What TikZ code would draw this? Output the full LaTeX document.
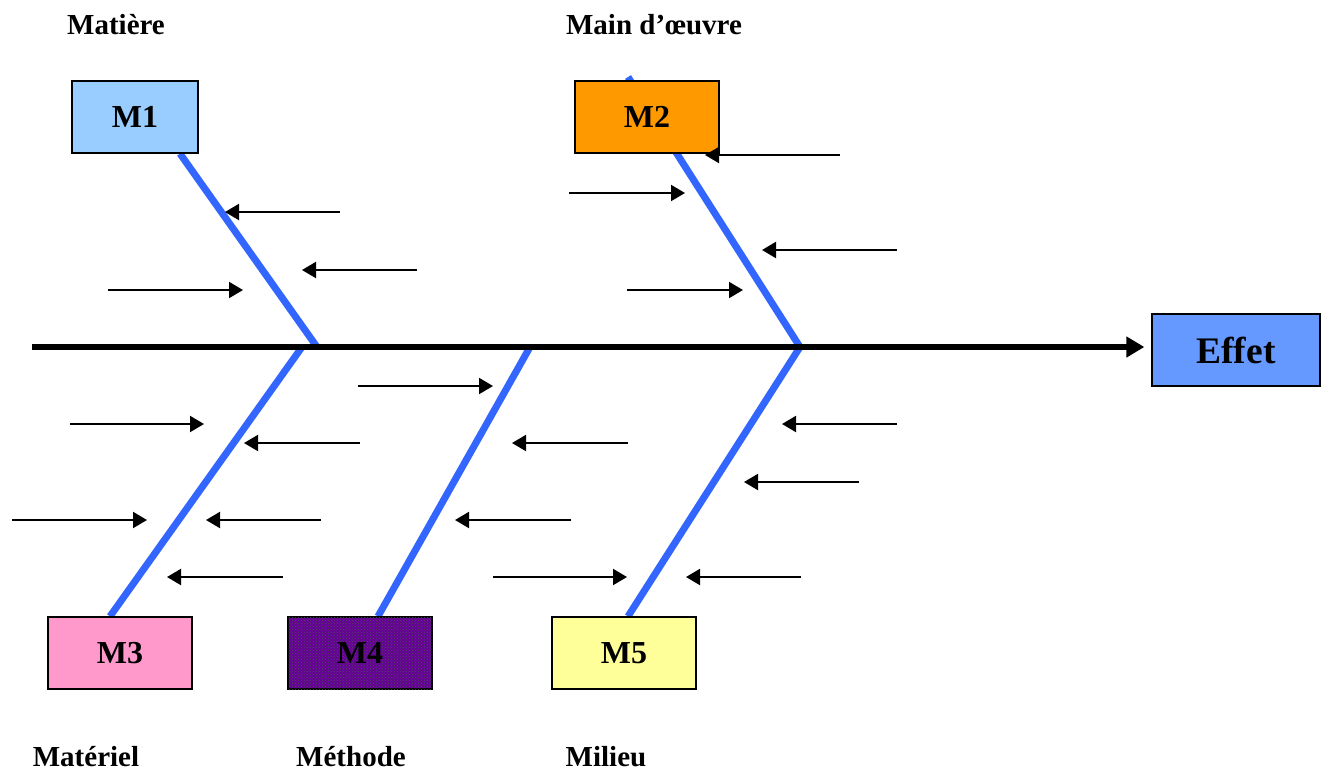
\documentclass[tikz,border=0pt]{standalone}
\usepackage{fontspec}
\setmainfont{Liberation Serif}
\usetikzlibrary{arrows.meta,backgrounds,patterns}
\definecolor{bonecol}{HTML}{3366FF}
\definecolor{mone}{HTML}{99CCFF}
\definecolor{mtwo}{HTML}{FF9900}
\definecolor{mthree}{HTML}{FF99CC}
\definecolor{mfour}{HTML}{660099}
\definecolor{mfive}{HTML}{FFFF99}
\definecolor{effetcol}{HTML}{6699FF}
\tikzset{
    mbox/.style={draw=black, line width=1.3pt, minimum width=144pt, minimum height=72pt,
        inner sep=0pt, font=\fontsize{32}{34}\selectfont\bfseries},
    branch/.style={font=\fontsize{29}{31}\selectfont\bfseries},
    bone/.style={draw=bonecol, line width=7pt},
    cause/.style={line width=2pt, -{Triangle[length=14pt,width=16pt]}},
    spine/.style={line width=6pt, -{Triangle[length=18pt,width=20pt]}}
}
\begin{document}
\begin{tikzpicture}[x=1pt, y=-1pt]
        \useasboundingbox (0,0) rectangle (1327,772);
        % les boites
        \node[mbox, fill=mone, minimum width=126pt] (M1) at (135,117) {M1};
        \node[mbox, fill=mtwo] (M2) at (647,117) {M2};
        \node[mbox, fill=mthree] (M3) at (120,653) {M3};
        \node[mbox, fill=mfour, postaction={pattern=crosshatch dots, pattern color=black!70}] (M4) at (360,653) {M4};
        \node[mbox, fill=mfive] (M5) at (624,653) {M5};
        \node[mbox, fill=effetcol, minimum width=168pt, font=\fontsize{37.5}{40}\selectfont\bfseries] (effet) at (1236,350) {Effet};
        % les familles
        \node[branch] (matiere) at (116,25) {Matière};
        \node[branch] (mo) at (654,25) {Main d’œuvre};
        \node[branch] (materiel) at (86,757) {Matériel};
        \node[branch] (methode) at (351,757) {Méthode};
        \node[branch] (milieu) at (606,757) {Milieu};
        % arete principale
        \coordinate (s0) at (32,347);
        \coordinate (j1) at (317,347);
        \coordinate (j3) at (302,347);
        \coordinate (j4) at (530,347);
        \coordinate (j2) at (800,347);
        \coordinate (t2) at (628,77);
        \draw[spine] (s0) -- ([xshift=-7pt]s0 -| effet.west);
        \begin{scope}[on background layer]
            \draw[bone] ([xshift=45pt]M1.south) -- (j1);
            \draw[bone] (t2) -- (j2);
            \draw[bone] (j3) -- ([xshift=-10pt]M3.north);
            \draw[bone] (j4) -- ([xshift=18pt]M4.north);
            \draw[bone] (j2) -- ([xshift=4pt]M5.north);
        \end{scope}
        % les causes
        \foreach \xa/\xb/\y in {340/225/212, 417/302/270, 108/243/290,
                840/705/155, 569/685/193, 897/762/250, 627/743/290,
                70/204/424, 360/244/443, 12/147/520, 321/206/520, 283/167/577,
                358/493/386, 628/512/443, 571/455/520, 493/627/577,
                897/782/424, 859/744/482, 801/686/577}{
            \draw[cause] (\xa,\y) -- (\xb,\y);
        }
    \end{tikzpicture}
\end{document}
